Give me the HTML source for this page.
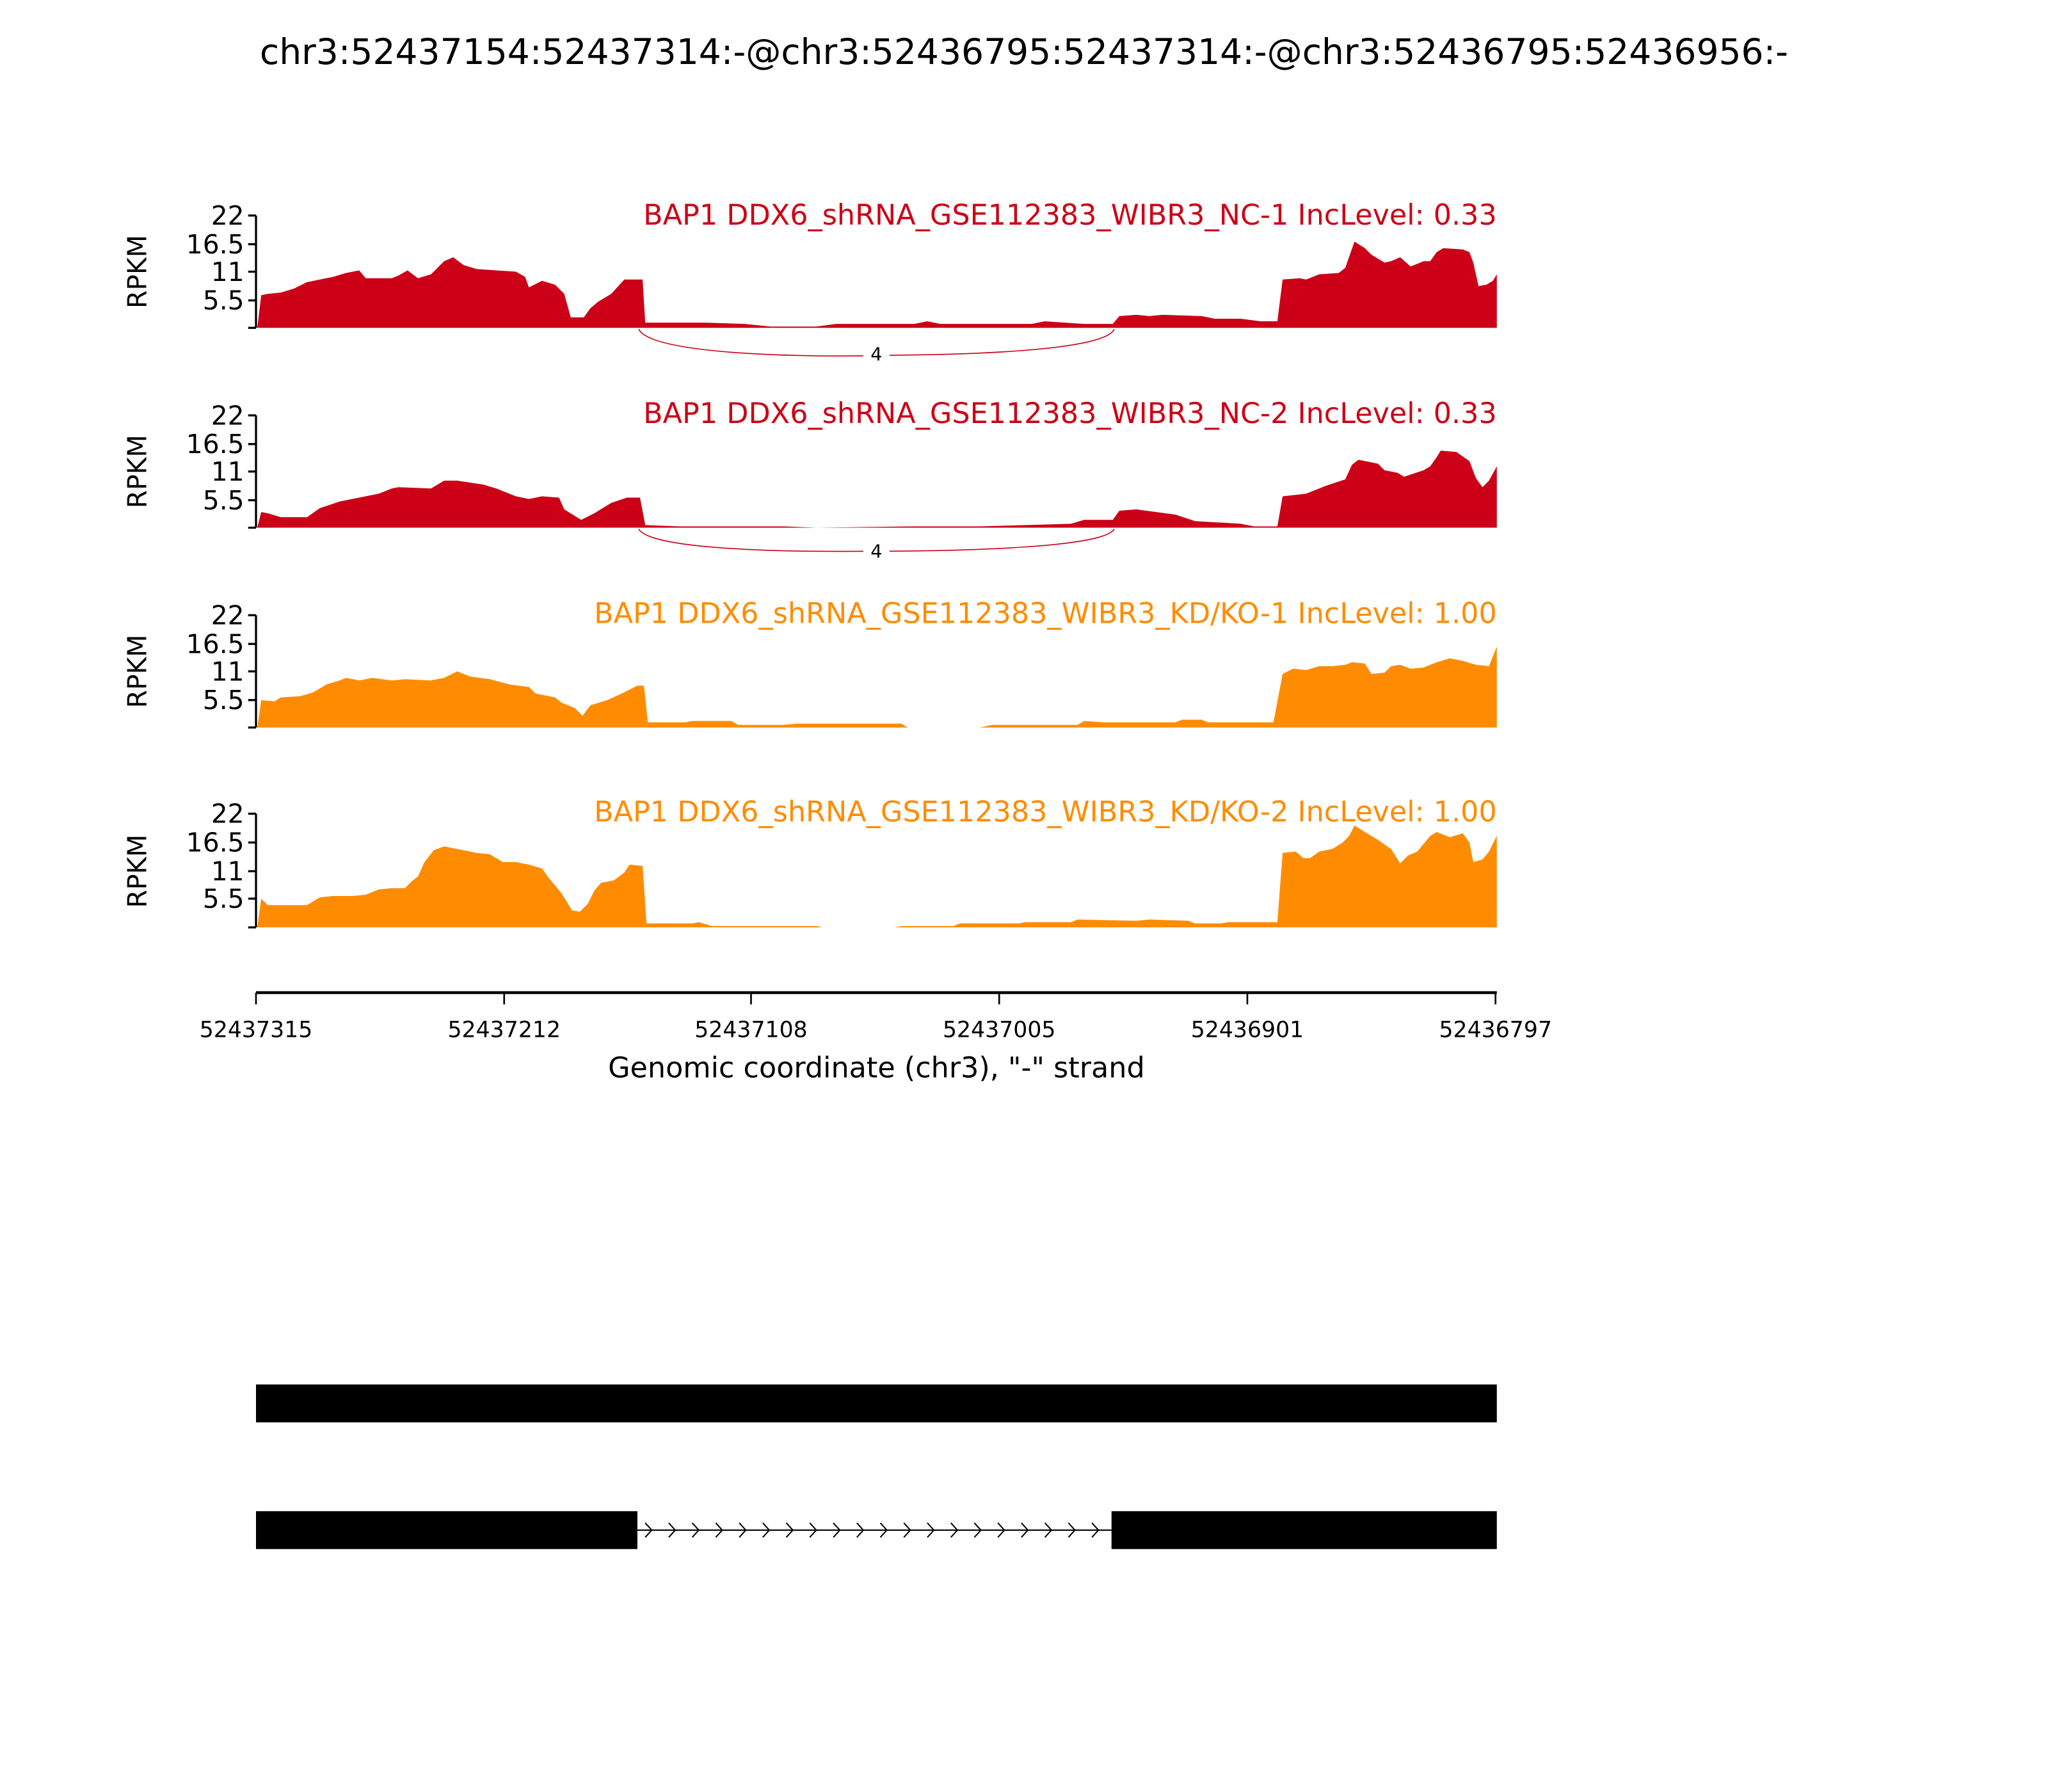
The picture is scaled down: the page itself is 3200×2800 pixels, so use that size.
<!DOCTYPE html>
<html><head><meta charset="utf-8"><style>html,body{margin:0;padding:0;background:#fff}svg{display:block}</style></head><body>
<svg width="3200" height="2800" viewBox="0 0 1568 1372" xmlns="http://www.w3.org/2000/svg" font-family="'DejaVu Sans','Liberation Sans',sans-serif">
<rect width="1568" height="1372" fill="#fff"/>
<text x="784" y="49" font-size="27" text-anchor="middle">chr3:52437154:52437314:-@chr3:52436795:52437314:-@chr3:52436795:52436956:-</text>

<!-- Panel 1 -->
<polygon fill="#CC0016" points="197,251 200,226 205,225 215,224 225,221 235,216 245,214 255,212 265,209 275,207 280,213 300,213 305,211 312,207 320,213 330,210 340,200 347,197 355,203 365,206 380,207 395,208 402,212 405,220 415,215 425,218 432,225 437,243 447,243 452,236 458,231 468,225 478,214 488,214 492,214 494,247 520,247 540,247 570,248 590,250 625,250 640,248 700,248 710,246 720,248 790,248 800,246 830,248 852,248 857,242 870,241 880,242 890,241 920,242 930,244 950,244 965,246 978,246 982,214 995,213 1000,214 1010,210 1025,209 1030,205 1037,185 1045,190 1050,195 1060,201 1065,200 1072,197 1080,204 1090,200 1095,200 1100,193 1105,190 1120,191 1125,193 1128,201 1132,219 1138,218 1143,215 1146,210 1146,251"/>
<text x="1146" y="172" font-size="21.8" fill="#CC0016" text-anchor="end">BAP1 DDX6_shRNA_GSE112383_WIBR3_NC-1 IncLevel: 0.33</text>
<g stroke="#000" stroke-width="1.6" fill="none"><path d="M196,165V251M190,165H196M190,187H196M190,208H196M190,230H196M190,251H196"/></g>
<g font-size="20" text-anchor="end"><text x="187" y="172">22</text><text x="187" y="194">16.5</text><text x="187" y="215">11</text><text x="187" y="237">5.5</text></g>
<text transform="translate(112,208) rotate(-90)" font-size="20" text-anchor="middle">RPKM</text>
<path d="M489,252 C500,275 660,273 671,272 M671,272 C690,272 845,272 853,252" stroke="#CC0016" stroke-width="0.8" fill="none"/>
<rect x="661" y="261" width="20" height="20" fill="#fff"/>
<text x="671" y="276" font-size="14" text-anchor="middle">4</text>

<!-- Panel 2 -->
<polygon fill="#CC0016" points="197,404 200,392 205,393 215,396 235,396 245,389 260,384 275,381 290,378 300,374 305,373 330,374 340,368 350,368 370,371 380,374 395,380 405,382 415,380 428,381 432,390 445,398 455,393 468,385 480,381 490,381 494,402 520,403 600,403 625,404 700,403 750,403 820,401 830,398 852,398 857,391 870,390 885,392 900,394 915,399 950,401 960,403 978,403 982,380 1000,378 1015,372 1030,367 1035,356 1040,352 1055,355 1060,360 1070,362 1075,365 1090,360 1095,357 1100,350 1103,345 1115,346 1125,353 1130,366 1135,373 1140,368 1146,357 1146,404"/>
<text x="1146" y="324" font-size="21.8" fill="#CC0016" text-anchor="end">BAP1 DDX6_shRNA_GSE112383_WIBR3_NC-2 IncLevel: 0.33</text>
<g stroke="#000" stroke-width="1.6" fill="none"><path d="M196,318V404M190,318H196M190,340H196M190,361H196M190,383H196M190,404H196"/></g>
<g font-size="20" text-anchor="end"><text x="187" y="325">22</text><text x="187" y="347">16.5</text><text x="187" y="368">11</text><text x="187" y="390">5.5</text></g>
<text transform="translate(112,361) rotate(-90)" font-size="20" text-anchor="middle">RPKM</text>
<path d="M489,405 C500,425 660,422 671,422 M671,422 C690,422 845,422 853,405" stroke="#CC0016" stroke-width="0.8" fill="none"/>
<rect x="661" y="412" width="20" height="20" fill="#fff"/>
<text x="671" y="427" font-size="14" text-anchor="middle">4</text>

<!-- Panel 3 -->
<polygon fill="#FF8C00" points="197,557 200,536 210,537 215,534 230,533 240,530 250,524 260,521 265,519 275,521 285,519 300,521 310,520 330,521 340,519 350,514 360,518 375,520 390,524 405,526 410,531 425,534 430,538 440,542 446,548 452,540 465,536 478,530 488,525 493,525 496,553 525,553 530,552 560,552 565,555 600,555 610,554 690,554 695,557 750,557 760,555 825,555 830,552 845,553 900,553 905,551 920,551 925,553 975,553 982,516 990,512 1000,513 1010,510 1020,510 1030,509 1035,507 1045,508 1050,516 1060,515 1065,510 1072,509 1080,512 1090,511 1100,507 1110,504 1120,506 1130,509 1140,510 1146,495 1146,557"/>
<text x="1146" y="477" font-size="21.8" fill="#FF8C00" text-anchor="end">BAP1 DDX6_shRNA_GSE112383_WIBR3_KD/KO-1 IncLevel: 1.00</text>
<g stroke="#000" stroke-width="1.6" fill="none"><path d="M196,471V557M190,471H196M190,493H196M190,514H196M190,536H196M190,557H196"/></g>
<g font-size="20" text-anchor="end"><text x="187" y="478">22</text><text x="187" y="500">16.5</text><text x="187" y="521">11</text><text x="187" y="543">5.5</text></g>
<text transform="translate(112,514) rotate(-90)" font-size="20" text-anchor="middle">RPKM</text>

<!-- Panel 4 -->
<polygon fill="#FF8C00" points="197,710 200,688 205,693 235,693 245,687 255,686 270,686 280,685 290,681 300,680 310,680 315,675 320,671 325,660 332,651 340,648 350,650 365,653 375,654 385,660 395,660 405,662 415,665 420,672 430,684 438,697 444,698 450,692 455,682 460,676 470,674 478,668 482,662 492,663 495,707 530,707 535,706 545,709 625,709 630,710 685,710 690,709 730,709 735,707 780,707 785,706 820,706 825,704 870,705 880,704 910,705 915,707 935,707 940,706 978,706 982,653 992,652 998,657 1003,657 1010,652 1020,650 1028,645 1033,640 1037,632 1045,637 1055,643 1065,650 1072,661 1078,655 1085,652 1095,640 1100,637 1110,641 1120,638 1125,645 1128,660 1135,658 1140,652 1146,640 1146,710"/>
<text x="1146" y="629" font-size="21.8" fill="#FF8C00" text-anchor="end">BAP1 DDX6_shRNA_GSE112383_WIBR3_KD/KO-2 IncLevel: 1.00</text>
<g stroke="#000" stroke-width="1.6" fill="none"><path d="M196,623V710M190,623H196M190,645H196M190,667H196M190,688H196M190,710H196"/></g>
<g font-size="20" text-anchor="end"><text x="187" y="630">22</text><text x="187" y="652">16.5</text><text x="187" y="674">11</text><text x="187" y="695">5.5</text></g>
<text transform="translate(112,667) rotate(-90)" font-size="20" text-anchor="middle">RPKM</text>

<!-- X axis -->
<g stroke="#000" fill="none"><path d="M196,760H1146" stroke-width="2.2"/><path d="M196,760v9M386,760v9M575,760v9M765,760v9M955,760v9M1145,760v9" stroke-width="1.3"/></g>
<g font-size="17" text-anchor="middle"><text x="196" y="794">52437315</text><text x="386" y="794">52437212</text><text x="575" y="794">52437108</text><text x="765" y="794">52437005</text><text x="955" y="794">52436901</text><text x="1145" y="794">52436797</text></g>
<text x="671" y="825" font-size="21.8" text-anchor="middle">Genomic coordinate (chr3), "-" strand</text>

<!-- Gene models -->
<rect x="196" y="1060" width="950" height="29" fill="#000"/>
<rect x="196" y="1157" width="292" height="29" fill="#000"/>
<rect x="851" y="1157" width="295" height="29" fill="#000"/>
<line x1="488" y1="1171.5" x2="851" y2="1171.5" stroke="#000" stroke-width="1"/>
<path stroke="#000" stroke-width="1" fill="none" d="M494,1166l5,5.5l-5,5.5 M512,1166l5,5.5l-5,5.5 M530,1166l5,5.5l-5,5.5 M548,1166l5,5.5l-5,5.5 M566,1166l5,5.5l-5,5.5 M584,1166l5,5.5l-5,5.5 M602,1166l5,5.5l-5,5.5 M620,1166l5,5.5l-5,5.5 M638,1166l5,5.5l-5,5.5 M656,1166l5,5.5l-5,5.5 M674,1166l5,5.5l-5,5.5 M692,1166l5,5.5l-5,5.5 M710,1166l5,5.5l-5,5.5 M728,1166l5,5.5l-5,5.5 M746,1166l5,5.5l-5,5.5 M764,1166l5,5.5l-5,5.5 M782,1166l5,5.5l-5,5.5 M800,1166l5,5.5l-5,5.5 M818,1166l5,5.5l-5,5.5 M836,1166l5,5.5l-5,5.5"/>
</svg>
</body></html>
